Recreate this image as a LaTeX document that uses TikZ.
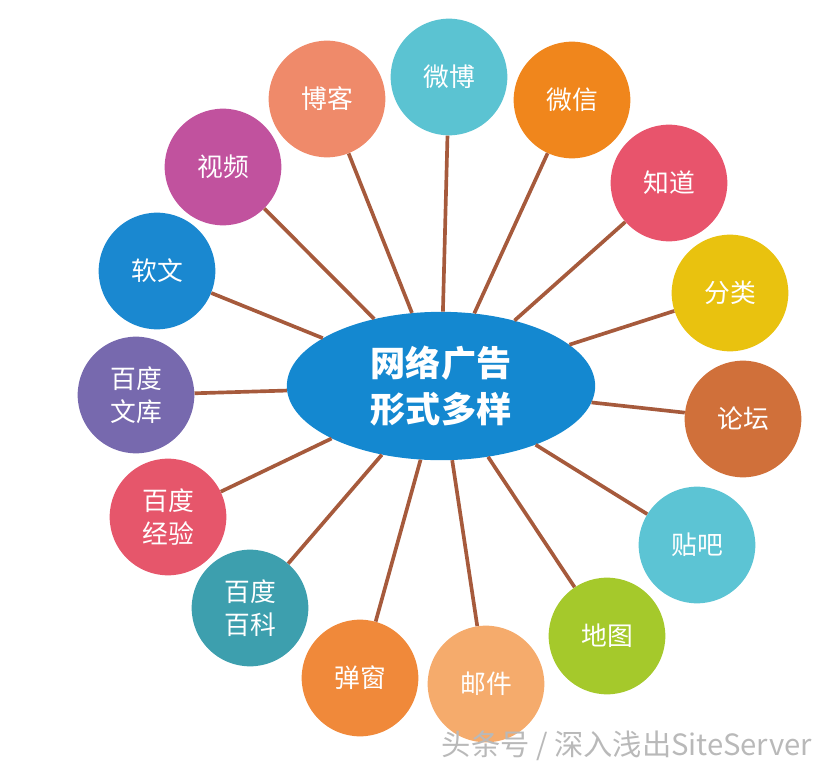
\documentclass[tikz,border=0pt]{standalone}
\usepackage{fontspec}
\setmainfont{Noto Sans CJK SC}
\usetikzlibrary{shapes.geometric}
\definecolor{hubblue}{HTML}{1488D0}
\definecolor{linkbrown}{HTML}{A65A3C}
\definecolor{cweibo}{HTML}{5BC3D2}
\definecolor{cweixin}{HTML}{F0861C}
\definecolor{czhidao}{HTML}{E8546C}
\definecolor{cfenlei}{HTML}{E9C20F}
\definecolor{cluntan}{HTML}{D0703A}
\definecolor{ctieba}{HTML}{5CC4D4}
\definecolor{cditu}{HTML}{A5C92B}
\definecolor{cyoujian}{HTML}{F5AB6C}
\definecolor{ctanchuang}{HTML}{F0893A}
\definecolor{cbaike}{HTML}{3D9FAE}
\definecolor{cjingyan}{HTML}{E6566B}
\definecolor{cwenku}{HTML}{7769AE}
\definecolor{cruanwen}{HTML}{1A88D0}
\definecolor{cshipin}{HTML}{C1529E}
\definecolor{cboke}{HTML}{EF8A6A}

\begin{document}
\begin{tikzpicture}
			[x=0.03cm,y=-0.03cm,
			every node/.style={circle,minimum size=3.5cm,inner sep=0pt,text=white,align=center,font=\fontsize{22}{28}\selectfont},
			hub/.style={ellipse,fill=hubblue,minimum width=9.25cm,minimum height=4.45cm,font=\fontsize{30}{40}\selectfont\bfseries},
			edge/.style={draw=linkbrown,line width=1.1mm}]
			\useasboundingbox (0,0) rectangle (830,774);
			% outer circles
			\node[fill=cweibo] (weibo) at (449,77) {微博};
			\node[fill=cweixin] (weixin) at (572,100) {微信};
			\node[fill=czhidao] (zhidao) at (669,183) {知道};
			\node[fill=cfenlei] (fenlei) at (730,293) {分类};
			\node[fill=cluntan] (luntan) at (743,419) {论坛};
			\node[fill=ctieba] (tieba) at (697,545) {贴吧};
			\node[fill=cditu] (ditu) at (607,636) {地图};
			\node[fill=cyoujian] (youjian) at (486,684) {邮件};
			\node[fill=ctanchuang] (tanchuang) at (360,678) {弹窗};
			\node[fill=cbaike] (baike) at (250,608) {百度\\百科};
			\node[fill=cjingyan] (jingyan) at (168,517) {百度\\经验};
			\node[fill=cwenku] (wenku) at (136,395) {百度\\文库};
			\node[fill=cruanwen] (ruanwen) at (157,271) {软文};
			\node[fill=cshipin] (shipin) at (223,167) {视频};
			\node[fill=cboke] (boke) at (327,99) {博客};
			
			\node[hub] (hub) at (441,386) {网络广告\\形式多样};
			
			\draw[edge] (hub) -- (weibo);
			\draw[edge] (hub) -- (weixin);
			\draw[edge] (hub) -- (zhidao);
			\draw[edge] (hub) -- (fenlei);
			\draw[edge] (hub) -- (luntan);
			\draw[edge] (hub) -- (tieba);
			\draw[edge] (hub) -- (ditu);
			\draw[edge] (hub) -- (youjian);
			\draw[edge] (hub) -- (tanchuang);
			\draw[edge] (hub) -- (baike);
			\draw[edge] (hub) -- (jingyan);
			\draw[edge] (hub) -- (wenku);
			\draw[edge] (hub) -- (ruanwen);
			\draw[edge] (hub) -- (shipin);
			\draw[edge] (hub) -- (boke);
			
			\node[rectangle,minimum size=0pt,anchor=east,text=gray!55,font=\fontsize{25}{30}\selectfont] (mark) at (812,746) {头条号 / 深入浅出SiteServer};
			\end{tikzpicture}
\end{document}
